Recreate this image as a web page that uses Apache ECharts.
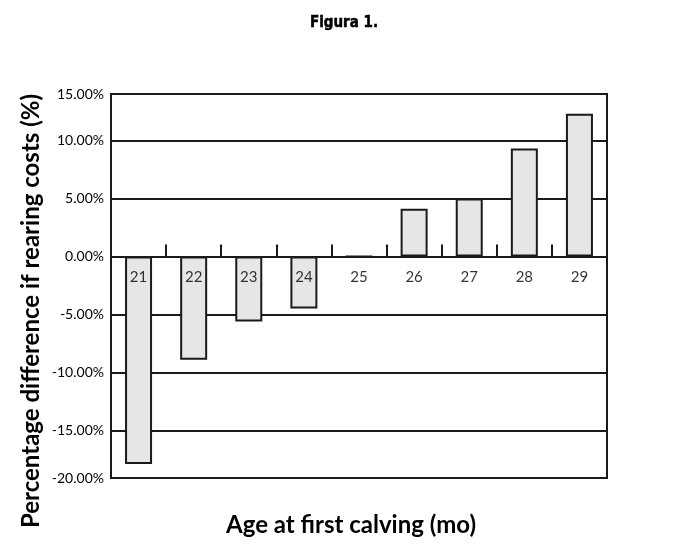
<!DOCTYPE html>
<html>
<head>
<meta charset="utf-8">
<script src="https://cdn.jsdelivr.net/npm/echarts@6/dist/echarts.min.js"></script>
<style>html,body{margin:0;padding:0;background:#fff}#c{width:688px;height:560px}</style>
</head>
<body>
<div id="c"></div>
<script>
const categories = ['21','22','23','24','25','26','27','28','29'];
const values = [-17.9, -8.9, -5.6, -4.5, 0, 4.1, 5.0, 9.3, 12.3];
const gridValues = [-15, -10, -5, 0, 5, 10];
const yLabelValues = [-19.1, -15, -10, -5, 0, 5, 10, 14];
const yTickLabels = ['-20.00%','-15.00%','-10.00%','-5.00%','0.00%','5.00%','10.00%','15.00%'];

const chart = echarts.init(document.getElementById('c'), null, {renderer:'canvas'});
const FONT = 'Lato, "Open Sans", sans-serif';
function yLabel(v) {
  let best = 0;
  for (let i = 0; i < yLabelValues.length; i++) {
    if (Math.abs(yLabelValues[i] - v) < Math.abs(yLabelValues[best] - v)) best = i;
  }
  return yTickLabels[best];
}
chart.setOption({
  animation: false,
  backgroundColor: '#fff',
  title: [
    {text: 'Figura 1.', left: 'center', top: 11,
     textStyle: {fontFamily: '"DejaVu Sans Condensed", "Liberation Sans Narrow", sans-serif', fontWeight: 'bold', fontSize: 15, color: '#000', textBorderColor: '#000', textBorderWidth: 0.5}},
    {text: 'Age at first calving (mo)', left: 346, top: 508, textAlign: 'center',
     textStyle: {fontFamily: FONT, fontWeight: 'bold', fontSize: 24, color: '#000'}}
  ],
  graphic: [
    {type: 'text', x: 31, y: 311, rotation: Math.PI/2,
     style: {text: 'Percentage difference if rearing costs (%)', font: 'bold 24px Lato, sans-serif', fill: '#000', align: 'center', verticalAlign: 'middle'}}
  ],
  grid: {left: 111, right: 81, top: 94, bottom: 82, show: true, borderColor: '#1a1a1a', borderWidth: 2, backgroundColor: '#fff'},
  xAxis: {
    type: 'category', data: categories,
    axisLine: {onZero: true, lineStyle: {color: '#1a1a1a', width: 2}},
    axisTick: {show: true, inside: true, length: 12, lineStyle: {color: '#1a1a1a', width: 2}},
    axisLabel: {show: false},
    splitLine: {show: false}
  },
  yAxis: {
    type: 'value', min: -19.1, max: 14,
    axisLine: {show: false},
    axisTick: {show: false, customValues: gridValues},
    axisLabel: {show: true, customValues: yLabelValues, formatter: yLabel, color: '#000', fontSize: 14, fontFamily: FONT, margin: 7, showMinLabel: true, showMaxLabel: true, hideOverlap: false},
    splitLine: {show: true, lineStyle: {color: '#1a1a1a', width: 2}}
  },
  series: [{
    type: 'bar', data: values, barWidth: 27,
    itemStyle: {color: '#e6e6e6', borderColor: '#1a1a1a', borderWidth: 2}
  }, {
    type: 'scatter', data: categories.map(c => [c, 0]), symbolSize: 0, z: 10,
    silent: true,
    label: {show: true, position: 'bottom', distance: 13, formatter: p => p.value[0], color: '#000', fontSize: 15, fontFamily: FONT}
  }]
});
</script>
</body>
</html>
